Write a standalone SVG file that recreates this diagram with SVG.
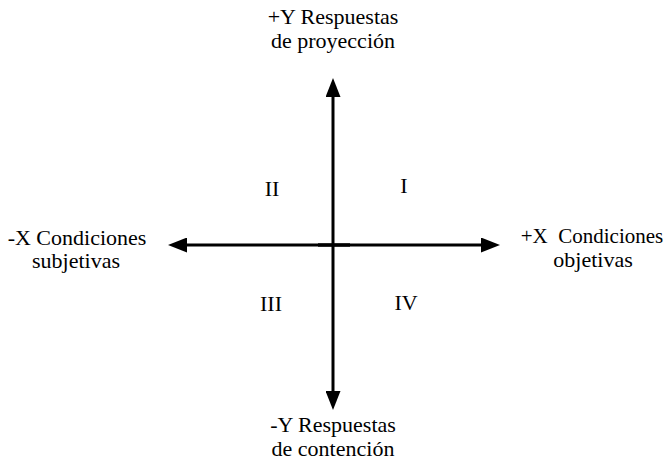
<svg xmlns="http://www.w3.org/2000/svg" width="667" height="460" viewBox="0 0 667 460">
<style>
text{font-family:"Liberation Serif","Times New Roman",serif;font-size:22px;fill:#000;text-anchor:middle}
.ax{stroke:#000;stroke-width:3;fill:none}
</style>
<defs>
<marker id="ah" markerWidth="19" markerHeight="15" refX="0" refY="7.5" orient="auto" markerUnits="userSpaceOnUse">
<path d="M0,0 L19,7.5 L0,15 Z" fill="#000"/>
</marker>
</defs>
<rect width="667" height="460" fill="#fff"/>
<g id="connectors">
<line class="ax" x1="333" y1="245" x2="187" y2="245" marker-end="url(#ah)"/>
<line class="ax" x1="333" y1="245" x2="481" y2="245" marker-end="url(#ah)"/>
<line class="ax" x1="333" y1="245" x2="333" y2="97" marker-end="url(#ah)"/>
<line class="ax" x1="333" y1="245" x2="333" y2="391" marker-end="url(#ah)"/>
<line x1="318" y1="245" x2="350" y2="245" stroke="#000" stroke-width="3.4"/>
</g>
<g id="top"><text x="333" y="24">+Y Respuestas</text><text x="333" y="48">de proyección</text></g>
<g id="bottom"><text x="333" y="432">-Y Respuestas</text><text x="333" y="456">de contención</text></g>
<g id="left"><text x="77" y="245">-X Condiciones</text><text x="76" y="268">subjetivas</text></g>
<g id="right"><text x="592" y="243" xml:space="preserve" style="font-size:21px">+X  Condiciones</text><text x="593" y="267">objetivas</text></g>
<g id="q1"><text x="404" y="193">I</text></g>
<g id="q2"><text x="272" y="196">II</text></g>
<g id="q3"><text x="271" y="311">III</text></g>
<g id="q4"><text x="406" y="310">IV</text></g>
</svg>
